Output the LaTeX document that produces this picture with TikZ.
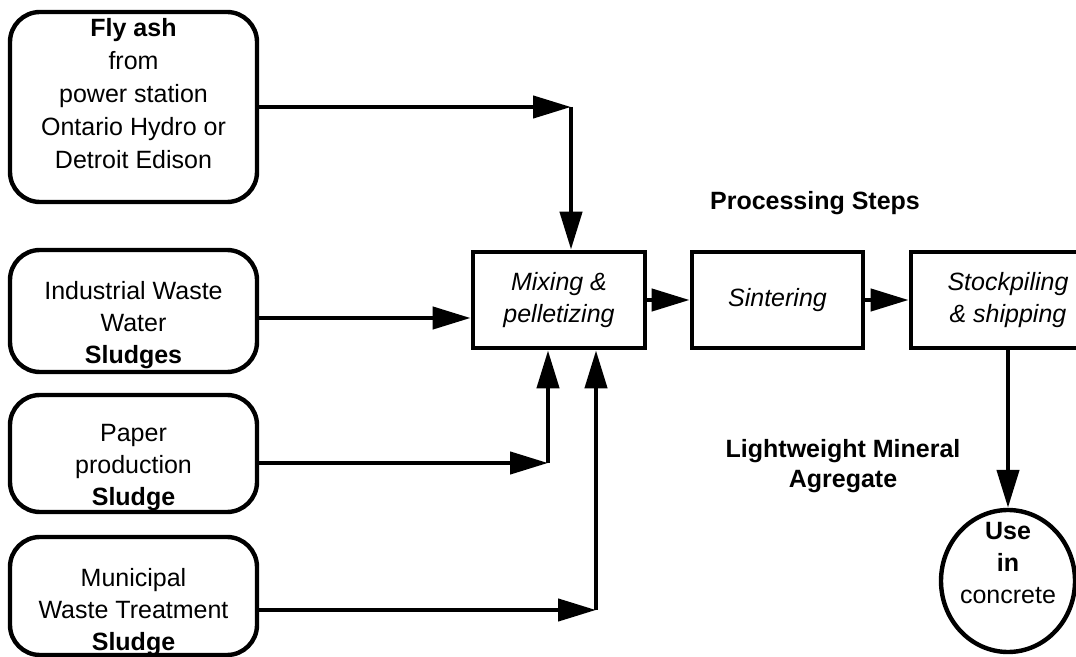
\documentclass[tikz,border=0pt]{standalone}
\usepackage{fontspec}
\setmainfont{Liberation Sans}
\usetikzlibrary{arrows.meta}
\usetikzlibrary{shapes.geometric}

\begin{document}
\begin{tikzpicture}[x=0.5pt, y=-0.5pt,
    every node/.style={font=\fontsize{12.5}{16}\selectfont, align=center, inner sep=0pt},
    source/.style={draw=black, line width=2.2pt, rounded corners=15pt, minimum width=123.5pt},
    process/.style={draw=black, line width=2.4pt, minimum height=48pt,
      font=\fontsize{12.5}{16}\selectfont\itshape},
    heading/.style={font=\fontsize{12.5}{15}\selectfont\bfseries},
    flow/.style={line width=2.2pt, -{Triangle[length=19pt,width=11pt]}}]
    \useasboundingbox (0,0) rectangle (1076,657);
    % sources
    \node[source, minimum height=95pt,
      label={[yshift=6.5pt, font=\fontsize{12.5}{16.5}\selectfont]center:{\textbf{Fly ash}\\from\\power station\\Ontario Hydro or\\Detroit Edison}}]
      (fly) at (133.5,107) {};
    \node[source, minimum height=61pt,
      label={[yshift=-7pt]center:{Industrial Waste\\Water\\\textbf{Sludges}}}]
      (ind) at (133.5,311) {};
    \node[source, minimum height=58.5pt,
      label={[yshift=-7.25pt]center:{Paper\\production\\\textbf{Sludge}}}]
      (paper) at (133.5,453.5) {};
    \node[source, minimum height=59pt,
      label={[yshift=-8pt]center:{Municipal\\Waste Treatment\\\textbf{Sludge}}}]
      (muni) at (133.5,596) {};
    % processing steps
    \node[process, minimum width=86pt] (mix) at (559,300) {Mixing \&\\pelletizing};
    \node[process, minimum width=85.5pt] (sint) at (777.5,300) {Sintering};
    \node[process, minimum width=97pt] (stock) at (1008,300) {Stockpiling\\\& shipping};
    \node[ellipse, draw=black, line width=2.2pt, minimum width=67pt, minimum height=71pt,
      label={[yshift=9pt]center:{\textbf{Use}\\\textbf{in}\\concrete}}]
      (conc) at (1008,581) {};
    \node[heading] (steps) at (815,203) {Processing Steps};
    \node[heading] (lma) at (843,466) {Lightweight Mineral\\Agregate};
    % joints
    \coordinate (jfly) at (571,107);
    \coordinate (jpaper) at (548,463);
    \coordinate (jmuni) at (596,610);
    % feeds
    \draw[flow] (fly.east) -- (jfly);
    \draw[flow] (jfly) -- (jfly |- mix.north);
    \draw[flow] ([yshift=-3.5pt]ind.east) -- ([yshift=-9pt]mix.west);
    \draw[flow] ([yshift=-4.75pt]paper.east) -- (jpaper);
    \draw[flow] (jpaper) -- (jpaper |- mix.south);
    \draw[flow] ([yshift=-7pt]muni.east) -- (jmuni);
    \draw[flow] (jmuni) -- (jmuni |- mix.south);
    % process chain
    \draw[flow] (mix) -- (sint);
    \draw[flow] (sint) -- (stock);
    \draw[flow] (stock) -- (conc);
\end{tikzpicture}
\end{document}
